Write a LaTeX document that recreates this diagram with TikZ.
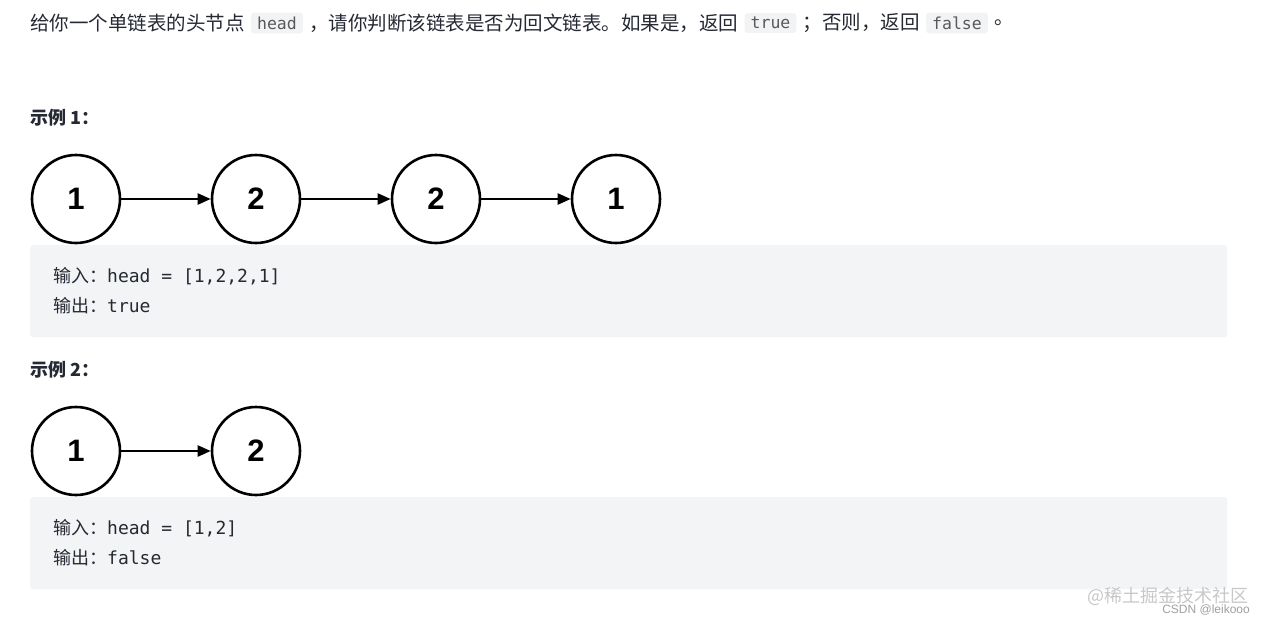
\documentclass[tikz,border=0pt]{standalone}
\usepackage{fontspec}
\setmainfont{Noto Sans CJK SC}
\newfontfamily\cjk{Noto Sans CJK SC}
\newfontfamily\monof{DejaVu Sans Mono}
\newfontfamily\numf{Liberation Sans}
\usetikzlibrary{arrows.meta}
\definecolor{boxbg}{HTML}{F3F4F5}
\definecolor{codebg}{HTML}{F2F3F5}
\definecolor{txt}{HTML}{252933}
\definecolor{wm}{HTML}{C8C8C8}
\begin{document}
\begin{tikzpicture}[x=1pt,y=-1pt,
  lnode/.style={circle,draw=black,line width=2.6pt,minimum size=88pt,inner sep=0pt,font=\numf\bfseries\fontsize{31}{31}\selectfont},
  link/.style={line width=2.3pt,-{Triangle[length=13pt,width=11pt]}},
  codebox/.style={fill=boxbg,rounded corners=3pt},
  inl/.style={fill=codebg,rounded corners=3pt,inner xsep=6pt,inner ysep=4pt,font=\monof\fontsize{16.5}{16.5}\selectfont,text=gray!70!black},
  body/.style={anchor=west,inner sep=0pt,font=\cjk\fontsize{19.5}{19.5}\selectfont,text=txt},
  codet/.style={anchor=west,inner sep=0pt,font=\fontsize{18}{18}\selectfont,text=txt}]
\useasboundingbox[fill=white] (0,0) rectangle (1266,624);
% intro line
\node[body] (t1) at (30,23) {给你一个单链表的头节点};
\node[inl,anchor=west] (c1) at ([xshift=6pt]t1.east) {head};
\node[body] (t2) at ([xshift=6pt]c1.east) {，请你判断该链表是否为回文链表。如果是，返回};
\node[inl,anchor=west] (c2) at ([xshift=6pt]t2.east) {true};
\node[body] (t3) at ([xshift=6pt]c2.east) {；否则，返回};
\node[inl,anchor=west] (c3) at ([xshift=6pt]t3.east) {false};
\node[body] (t4) at ([xshift=6pt]c3.east) {。};
% example 1
\node[body,font=\cjk\bfseries\fontsize{18}{18}\selectfont] (e1) at (30,118) {示例 1：};
\node[lnode] (a1) at (76,199) {1};
\node[lnode] (a2) at (256,199) {2};
\node[lnode] (a3) at (436,199) {2};
\node[lnode] (a4) at (616,199) {1};
\draw[link] (a1) -- (a2);
\draw[link] (a2) -- (a3);
\draw[link] (a3) -- (a4);
\node[codebox,minimum width=1197pt,minimum height=92pt,anchor=north west,inner sep=0pt] (b1) at (30,245) {};
\node[codet] (i1) at (53,276) {{\cjk 输入：}{\monof head = [1,2,2,1]}};
\node[codet] (o1) at (53,306) {{\cjk 输出：}{\monof true}};
% example 2
\node[body,font=\cjk\bfseries\fontsize{18}{18}\selectfont] (e2) at (30,370) {示例 2：};
\node[lnode] (d1) at (76,451) {1};
\node[lnode] (d2) at (256,451) {2};
\draw[link] (d1) -- (d2);
\node[codebox,minimum width=1197pt,minimum height=92pt,anchor=north west,inner sep=0pt] (b2) at (30,497) {};
\node[codet] (i2) at (53,528) {{\cjk 输入：}{\monof head = [1,2]}};
\node[codet] (o2) at (53,558) {{\cjk 输出：}{\monof false}};
% watermark
\node[anchor=east,inner sep=0pt,text=wm,font=\cjk\fontsize{18}{18}\selectfont] (w1) at (1249,596) {@稀土掘金技术社区};
\node[anchor=east,inner sep=0pt,text=wm!80!black,font=\numf\fontsize{12}{12}\selectfont] (w2) at (1250,610) {CSDN @leikooo};
\end{tikzpicture}
\end{document}
